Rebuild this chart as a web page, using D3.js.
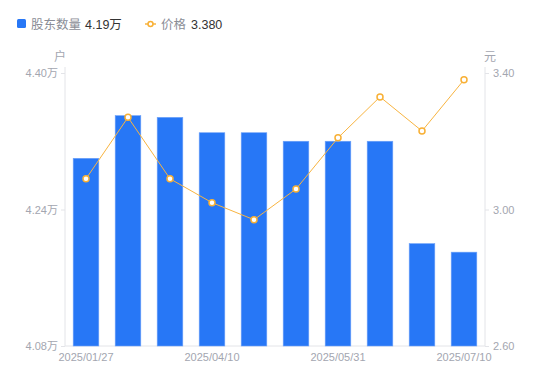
<!DOCTYPE html>
<html>
<head>
<meta charset="utf-8">
<script src="https://cdn.jsdelivr.net/npm/d3@7"></script>
<style>
  body { margin: 0; background: #fff; font-family: "Liberation Sans", "Noto Sans CJK SC", sans-serif; }
  .axis text { fill: #a3a6b0; font-size: 11px; font-family: "Liberation Sans", "Noto Sans CJK SC", sans-serif; }
  .axis path, .axis line { stroke: #e3e4e8; }
</style>
</head>
<body>
<div class="container"></div>
<script>
const dates = ["2025/01/27", "2025/02/20", "2025/03/10", "2025/04/10", "2025/04/30",
               "2025/05/20", "2025/05/31", "2025/06/10", "2025/06/20", "2025/07/10"];
const holders = [4.30, 4.35, 4.348, 4.33, 4.33, 4.32, 4.32, 4.32, 4.20, 4.19];
const prices = [3.09, 3.27, 3.09, 3.02, 2.97, 3.06, 3.21, 3.33, 3.23, 3.38];
const leftTicks = [4.08, 4.24, 4.40];
const rightTicks = [2.60, 3.00, 3.40];
const shownDates = ["2025/01/27", "2025/04/10", "2025/05/31", "2025/07/10"];

const width = 550;
const height = 381;
const m = {top: 73, right: 65, bottom: 35, left: 65};

const svg = d3.select(".container").append("svg").attr("width", width).attr("height", height);

const x = d3.scaleBand().domain(dates).range([m.left, width - m.right])
    .paddingInner(0.39).paddingOuter(0.195);
const yL = d3.scaleLinear().domain([4.08, 4.40]).range([height - m.bottom, m.top]);
const yR = d3.scaleLinear().domain([2.60, 3.40]).range([height - m.bottom, m.top]);

// axes
svg.append("g").attr("class", "axis")
    .attr("transform", `translate(${m.left},0)`)
    .call(d3.axisLeft(yL).tickValues(leftTicks).tickSize(4).tickPadding(3).tickFormat(d => d.toFixed(2) + "万"))
    .call(g => g.select(".domain").attr("d", `M0,${yL(4.40) - 6}V${yL(4.08)}`));

svg.append("g").attr("class", "axis")
    .attr("transform", `translate(${width - m.right},0)`)
    .call(d3.axisRight(yR).tickValues(rightTicks).tickSize(4).tickPadding(4).tickFormat(d => d.toFixed(2)))
    .call(g => g.select(".domain").attr("d", `M0,${yR(3.40) - 6}V${yR(2.60)}`));

svg.append("g").attr("class", "axis")
    .attr("transform", `translate(0,${height - m.bottom})`)
    .call(d3.axisBottom(x).tickValues(shownDates).tickSize(0).tickPadding(7))
    .call(g => g.select(".domain").attr("d", `M${m.left},0H${width - m.right}`));

svg.append("text").attr("x", 60).attr("y", 61).attr("text-anchor", "middle")
    .attr("fill", "#a3a6b0").style("font-size", "12px").text("户");
svg.append("text").attr("x", 490).attr("y", 61).attr("text-anchor", "middle")
    .attr("fill", "#a3a6b0").style("font-size", "12px").text("元");

// bars
svg.append("g").selectAll("rect")
    .data(holders)
    .enter().append("rect")
      .attr("x", (d, i) => x(dates[i]))
      .attr("y", d => yL(d))
      .attr("width", x.bandwidth())
      .attr("height", d => yL(4.08) - yL(d))
      .attr("fill", "#2777f6")
      .attr("stroke", "#6ea2f8")
      .attr("stroke-width", 0.6);

// price line
const line = d3.line()
    .x((d, i) => x(dates[i]) + x.bandwidth() / 2)
    .y(d => yR(d));

svg.append("path")
    .datum(prices)
    .attr("fill", "none")
    .attr("stroke", "#f8b440")
    .attr("stroke-width", 1)
    .attr("d", line);

svg.append("g").selectAll("circle")
    .data(prices)
    .enter().append("circle")
      .attr("cx", (d, i) => x(dates[i]) + x.bandwidth() / 2)
      .attr("cy", d => yR(d))
      .attr("r", 3)
      .attr("fill", "#fff")
      .attr("stroke", "#f8b035")
      .attr("stroke-width", 1.5);

// legend
const legend = svg.append("g").style("font-size", "12.5px");
legend.append("rect").attr("x", 17).attr("y", 19).attr("width", 9).attr("height", 9)
    .attr("rx", 1.5).attr("fill", "#2777f6");
legend.append("text").attr("x", 31).attr("y", 28.5).attr("fill", "#8a8d96").text("股东数量");
legend.append("text").attr("x", 85).attr("y", 28.5).attr("fill", "#333").text(holders[holders.length - 1] + "万");
legend.append("line").attr("x1", 145).attr("x2", 156).attr("y1", 24).attr("y2", 24)
    .attr("stroke", "#f8b440").attr("stroke-width", 1.5);
legend.append("circle").attr("cx", 150.5).attr("cy", 24).attr("r", 2.5)
    .attr("fill", "#fff").attr("stroke", "#f8b035").attr("stroke-width", 1.5);
legend.append("text").attr("x", 161).attr("y", 28.5).attr("fill", "#8a8d96").text("价格");
legend.append("text").attr("x", 191).attr("y", 28.5).attr("fill", "#333").text(prices[prices.length - 1].toFixed(3));
</script>
</body>
</html>
